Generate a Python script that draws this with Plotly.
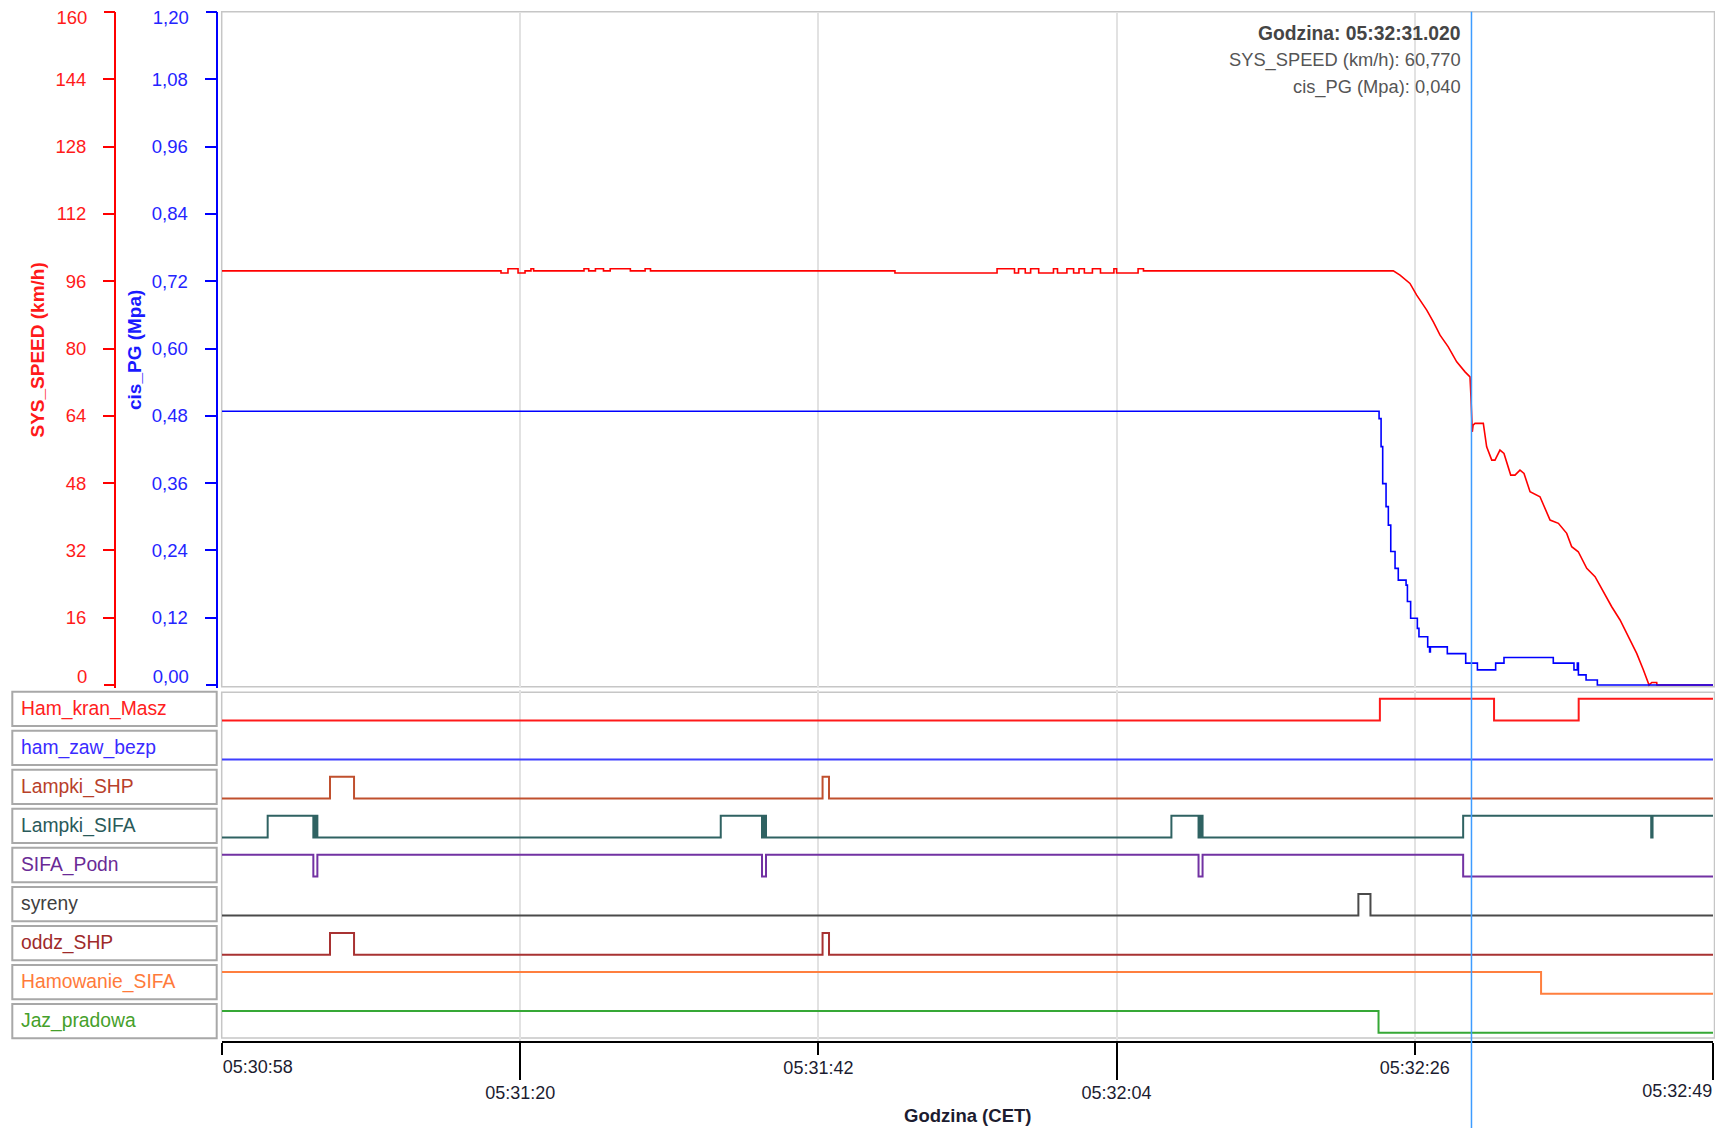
import plotly.graph_objects as go

# ------------------------------------------------------------------ data
# time axis: seconds after 05:30:58.000
x_range = [0.0, 111.0]
tick_times = [0.0, 22.2, 44.4, 66.6, 88.8, 111.0]
tick_labels = ["05:30:58", "05:31:20", "05:31:42", "05:32:04", "05:32:26", "05:32:49"]

speed_ticks = [0, 16, 32, 48, 64, 80, 96, 112, 128, 144, 160]
speed_ticktext = ["0", "16", "32", "48", "64", "80", "96", "112", "128", "144", "160"]
pg_ticks = [0.0, 0.12, 0.24, 0.36, 0.48, 0.60, 0.72, 0.84, 0.96, 1.08, 1.20]
pg_ticktext = ["0,00", "0,12", "0,24", "0,36", "0,48", "0,60", "0,72", "0,84", "0,96", "1,08", "1,20"]

speed_t = [0.0, 20.77, 20.77, 21.29, 21.29, 22.04, 22.04, 22.56, 22.56,
           23.00, 23.00, 23.20, 23.20, 26.95, 26.95, 27.30, 27.30, 27.80, 27.80,
           28.40, 28.40, 28.90, 28.90, 30.40, 30.40, 31.50, 31.50, 31.90, 31.90,
           50.10, 50.10, 57.70, 57.70, 59.00, 59.00, 59.30, 59.30, 59.80, 59.80,
           60.20, 60.20, 60.80, 60.80, 61.90, 61.90, 62.20, 62.20, 62.90, 62.90,
           63.40, 63.40, 63.80, 63.80, 64.20, 64.20, 64.80, 64.80, 65.40, 65.40,
           66.40, 66.40, 66.60, 66.60, 68.20, 68.20, 68.60, 68.60,
           87.20, 87.70, 88.44, 88.94, 89.69, 90.18, 90.68, 91.29, 91.92, 92.54,
           92.91, 92.98, 93.08, 93.14, 93.28, 93.90, 94.15, 94.53, 94.77, 95.14,
           95.44, 95.94, 96.26, 96.63, 96.93, 97.38, 98.12, 98.87, 99.49, 100.11,
           100.48, 100.97, 101.60, 102.22, 102.83, 103.46, 104.08, 104.70, 105.32,
           105.82, 106.18, 106.24, 106.44, 106.81, 106.83, 111.0]
speed_v = [98.45, 98.45, 97.95, 97.95, 98.95, 98.95, 97.95, 97.95, 98.45,
           98.45, 98.95, 98.95, 98.45, 98.45, 98.95, 98.95, 98.45, 98.45, 98.95,
           98.95, 98.45, 98.45, 98.95, 98.95, 98.45, 98.45, 98.95, 98.95, 98.45,
           98.45, 97.95, 97.95, 98.95, 98.95, 97.95, 97.95, 98.95, 98.95, 97.95,
           97.95, 98.95, 98.95, 97.95, 97.95, 98.95, 98.95, 97.95, 97.95, 98.95,
           98.95, 97.95, 97.95, 98.95, 98.95, 97.95, 97.95, 98.95, 98.95, 97.95,
           97.95, 98.95, 98.95, 97.95, 97.95, 98.95, 98.95, 98.45,
           98.45, 97.43, 95.46, 92.68, 89.12, 86.33, 83.17, 80.39, 76.83, 74.45,
           73.26, 68.51, 60.19, 61.80, 62.19, 62.19, 56.63, 53.47, 53.47, 55.85,
           55.06, 49.90, 49.90, 51.09, 50.31, 45.94, 44.75, 39.21, 38.43, 36.05,
           32.87, 31.68, 27.73, 25.74, 22.17, 18.61, 15.45, 11.48, 7.53,
           3.56, 0.40, 0.0, 0.6, 0.6, 0.0, 0.0]

pg_t = [0.0, 86.14, 86.29, 86.41, 86.66, 86.83, 87.01, 87.33, 87.57, 88.15,
        88.25, 88.49, 88.99, 89.11, 89.76, 89.90, 89.96, 91.22, 92.59, 93.46,
        94.82, 95.44, 99.11, 100.65, 100.90, 100.98, 101.55, 102.39, 111.0]
pg_v = [0.488, 0.475, 0.425, 0.359, 0.318, 0.285, 0.238, 0.208, 0.187, 0.178,
        0.149, 0.119, 0.101, 0.086, 0.068, 0.059, 0.068, 0.056, 0.039, 0.027,
        0.039, 0.049, 0.039, 0.027, 0.039, 0.018, 0.009, 0.0, 0.0]

# binary channels (step change times / levels)
ham_kran_masz_t = [0.0, 86.2, 94.7, 101.0, 111.0]
ham_kran_masz_v = [0, 1, 0, 1, 1]
ham_zaw_bezp_t = [0.0, 111.0]
ham_zaw_bezp_v = [0, 0]
lampki_shp_t = [0.0, 8.04, 9.83, 44.71, 45.19, 111.0]
lampki_shp_v = [0, 1, 0, 1, 0, 0]
lampki_sifa_t = [0.0, 3.40, 6.80, 6.95, 7.10, 37.13, 40.20, 40.35, 40.50,
                 70.68, 72.70, 72.85, 73.00, 92.40, 106.40, 106.50, 111.0]
lampki_sifa_v = [0, 1, 0, 1, 0, 1, 0, 1, 0, 1, 0, 1, 0, 1, 0, 1, 1]
sifa_podn_t = [0.0, 6.80, 7.10, 40.20, 40.50, 72.70, 73.00, 92.40, 111.0]
sifa_podn_v = [1, 0, 1, 0, 1, 0, 1, 0, 0]
syreny_t = [0.0, 84.6, 85.5, 111.0]
syreny_v = [0, 1, 0, 0]
oddz_shp_t = [0.0, 8.04, 9.83, 44.71, 45.19, 111.0]
oddz_shp_v = [0, 1, 0, 1, 0, 0]
hamowanie_sifa_t = [0.0, 98.2, 111.0]
hamowanie_sifa_v = [1, 0, 0]
jaz_pradowa_t = [0.0, 86.1, 111.0]
jaz_pradowa_v = [1, 0, 0]

channel_names = ["Ham_kran_Masz", "ham_zaw_bezp", "Lampki_SHP", "Lampki_SIFA",
                 "SIFA_Podn", "syreny", "oddz_SHP", "Hamowanie_SIFA", "Jaz_pradowa"]
channel_t = [ham_kran_masz_t, ham_zaw_bezp_t, lampki_shp_t, lampki_sifa_t,
             sifa_podn_t, syreny_t, oddz_shp_t, hamowanie_sifa_t, jaz_pradowa_t]
channel_v = [ham_kran_masz_v, ham_zaw_bezp_v, lampki_shp_v, lampki_sifa_v,
             sifa_podn_v, syreny_v, oddz_shp_v, hamowanie_sifa_v, jaz_pradowa_v]

cursor_t = 93.02
cursor_title = "Godzina: 05:32:31.020"
cursor_speed_text = "SYS_SPEED (km/h): 60,770"
cursor_pg_text = "cis_PG (Mpa): 0,040"

# ------------------------------------------------------------------ style
channel_line_colors = ["#ff1a1a", "#3f3fff", "#c0502e", "#2f6262", "#7232a3",
                       "#4a4a4a", "#a83232", "#ff7f3f", "#36a836"]
channel_text_colors = ["#ff2020", "#3a2bff", "#b8402a", "#2a5a5a", "#6a2a96",
                       "#404040", "#9e2a2a", "#ff7a3a", "#45a02a"]
FONT = "Liberation Sans, Arial, sans-serif"

FIG_W, FIG_H = 1715, 1128
M_L, M_R, M_T, M_B = 0, 2, 12, 86
PW = FIG_W - M_L - M_R
PH = FIG_H - M_T - M_B


def px_x(px):
    return (px - M_L) / PW


def px_y(py):
    return (FIG_H - M_B - py) / PH


PLOT_LEFT = 222
MAIN_TOP, MAIN_ZERO, MAIN_BOT = 12, 685, 688
ROW0_TOP, ROW_STEP, ROW_BOX_H = 691.7, 39.04, 34.3
HIGH_OFF, LOW_OFF = 7.0, 28.7

spd_per_px = 160.0 / (MAIN_ZERO - MAIN_TOP)
spd_min = -(MAIN_BOT - MAIN_ZERO) * spd_per_px
pg_min = spd_min * 1.2 / 160.0

fig = go.Figure()

fig.add_trace(go.Scatter(x=speed_t, y=speed_v, mode="lines", xaxis="x", yaxis="y",
                         line=dict(color="#ff0000", width=1.6), hoverinfo="skip",
                         showlegend=False))
fig.add_trace(go.Scatter(x=pg_t, y=pg_v, mode="lines", xaxis="x", yaxis="y2",
                         line=dict(color="#0000ff", width=1.6, shape="hv"),
                         hoverinfo="skip", showlegend=False))

layout_axes = {}
shapes = []
annotations = []

row_unit = LOW_OFF - HIGH_OFF
for i, name in enumerate(channel_names):
    top = ROW0_TOP + i * ROW_STEP
    d_top, d_bot = top - 2, top + 37
    r_top = 1 + (HIGH_OFF - (d_top - top)) / row_unit
    r_bot = -((d_bot - top) - LOW_OFF) / row_unit
    ax = "yaxis%d" % (i + 3)
    layout_axes[ax] = dict(domain=[px_y(d_bot), px_y(d_top)], range=[r_bot, r_top],
                           visible=False, fixedrange=True, anchor="x")
    fig.add_trace(go.Scatter(x=channel_t[i], y=channel_v[i], mode="lines",
                             xaxis="x", yaxis="y%d" % (i + 3),
                             line=dict(color=channel_line_colors[i], width=2, shape="hv"),
                             hoverinfo="skip", showlegend=False))
    # label box
    shapes.append(dict(type="rect", xref="paper", yref="paper",
                       x0=px_x(12.3), x1=px_x(216.7),
                       y0=px_y(top + ROW_BOX_H), y1=px_y(top),
                       line=dict(color="#a8a8a8", width=2), fillcolor="white",
                       layer="below"))
    annotations.append(dict(xref="paper", yref="paper", x=px_x(19.0), y=px_y(top + 17),
                            xanchor="left", yanchor="middle", showarrow=False,
                            text=name, font=dict(family=FONT, size=19.3,
                                                 color=channel_text_colors[i])))

# dummy traces so that the overlay axes are drawn
for k in range(2, 6):
    fig.add_trace(go.Scatter(x=x_range, y=[None, None], xaxis="x%d" % k, yaxis="y",
                             mode="lines", hoverinfo="skip", showlegend=False))
for k in range(12, 16):
    fig.add_trace(go.Scatter(x=x_range, y=[None, None], xaxis="x", yaxis="y%d" % k,
                             mode="lines", hoverinfo="skip", showlegend=False))

x_dom = [px_x(PLOT_LEFT), 1.0]
tickfont = dict(family=FONT, size=18, color="#1c1c30")
xbase = dict(range=x_range, domain=x_dom, anchor="free", position=0, showgrid=False,
             zeroline=False, showline=False, tickmode="array", ticks="outside",
             tickcolor="black", tickwidth=1.5, tickfont=tickfont, fixedrange=True,
             overlaying="x", ticklabeloverflow="allow")

layout_axes["xaxis"] = dict(range=x_range, domain=x_dom, anchor="free", position=0,
                            tickmode="array", tickvals=tick_times, showticklabels=False,
                            ticks="", showgrid=True, gridcolor="#e2e2e2", gridwidth=1.5,
                            showline=True, linecolor="black", linewidth=2,
                            zeroline=False, fixedrange=True)
layout_axes["xaxis2"] = dict(xbase, tickvals=[tick_times[0]], ticktext=[tick_labels[0]],
                             ticklen=12, ticklabelposition="outside right",
                             ticklabelstandoff=8)
layout_axes["xaxis3"] = dict(xbase, tickvals=[tick_times[2], tick_times[4]],
                             ticktext=[tick_labels[2], tick_labels[4]], ticklen=12,
                             ticklabelstandoff=-3)
layout_axes["xaxis4"] = dict(xbase, tickvals=[tick_times[1], tick_times[3]],
                             ticktext=[tick_labels[1], tick_labels[3]], ticklen=37,
                             ticklabelstandoff=-3)
layout_axes["xaxis5"] = dict(xbase, tickvals=[tick_times[5]], ticktext=[tick_labels[5]],
                             ticklen=37, ticklabelposition="outside left",
                             ticklabelstandoff=32)

spd_common = dict(range=[spd_min, 160], anchor="free", position=px_x(115), side="left",
                  tickmode="array", ticks="outside", ticklen=11, tickwidth=1.5,
                  tickcolor="#ff0000",
                  tickfont=dict(family=FONT, size=18.5, color="#ff1a1a"),
                  showgrid=False, zeroline=False, ticklabelstandoff=13,
                  ticklabeloverflow="allow", fixedrange=True)
pg_common = dict(range=[pg_min, 1.2], anchor="free", position=px_x(216.5), side="left",
                 tickmode="array", ticks="outside", ticklen=11, tickwidth=1.5,
                 tickcolor="#0000ff",
                 tickfont=dict(family=FONT, size=18.5, color="#2424ff"),
                 showgrid=False, zeroline=False, ticklabelstandoff=13,
                 ticklabeloverflow="allow", fixedrange=True)

layout_axes["yaxis"] = dict(spd_common, domain=[px_y(MAIN_BOT), 1.0],
                            tickvals=speed_ticks[1:-1], ticktext=speed_ticktext[1:-1],
                            showline=True, linecolor="#ff0000", linewidth=2)
layout_axes["yaxis12"] = dict(spd_common, overlaying="y", showline=False,
                              tickvals=[speed_ticks[-1]], ticktext=[speed_ticktext[-1]],
                              ticklabelshift=6)
layout_axes["yaxis13"] = dict(spd_common, overlaying="y", showline=False,
                              tickvals=[speed_ticks[0]], ticktext=[speed_ticktext[0]],
                              ticklabelshift=-8)
layout_axes["yaxis2"] = dict(pg_common, overlaying="y",
                             tickvals=pg_ticks[1:-1], ticktext=pg_ticktext[1:-1],
                             showline=True, linecolor="#0000ff", linewidth=2)
layout_axes["yaxis14"] = dict(pg_common, overlaying="y", showline=False,
                              tickvals=[pg_ticks[-1]], ticktext=[pg_ticktext[-1]],
                              ticklabelshift=6)
layout_axes["yaxis15"] = dict(pg_common, overlaying="y", showline=False,
                              tickvals=[pg_ticks[0]], ticktext=[pg_ticktext[0]],
                              ticklabelshift=-8)

# panel frames
shapes.append(dict(type="rect", xref="paper", yref="paper",
                   x0=px_x(221.7), x1=px_x(1714.5), y0=px_y(686.7), y1=px_y(11.7),
                   line=dict(color="#c6c6c6", width=1.5), layer="below"))
shapes.append(dict(type="rect", xref="paper", yref="paper",
                   x0=px_x(221.7), x1=px_x(1714.5), y0=px_y(1038), y1=px_y(692.3),
                   line=dict(color="#c6c6c6", width=1.5), layer="below"))
# cursor
shapes.append(dict(type="line", xref="x", yref="paper", x0=cursor_t, x1=cursor_t,
                   y0=px_y(FIG_H), y1=px_y(11.7),
                   line=dict(color="#3d9cff", width=1.5), layer="above"))

# axis titles
annotations.append(dict(xref="paper", yref="paper", x=px_x(36.5), y=px_y(350),
                        text="<b>SYS_SPEED (km/h)</b>", textangle=-90, showarrow=False,
                        font=dict(family=FONT, size=19, color="#ff1a1a"),
                        xanchor="center", yanchor="middle"))
annotations.append(dict(xref="paper", yref="paper", x=px_x(134), y=px_y(350),
                        text="<b>cis_PG (Mpa)</b>", textangle=-90, showarrow=False,
                        font=dict(family=FONT, size=19, color="#1a1aff"),
                        xanchor="center", yanchor="middle"))
annotations.append(dict(xref="x domain", yref="paper", x=0.5, y=px_y(1115),
                        text="<b>Godzina (CET)</b>", showarrow=False,
                        font=dict(family=FONT, size=18.5, color="#1c1c30"),
                        xanchor="center", yanchor="middle"))
# cursor read-out
for txt, ypx, col, fs in [("<b>" + cursor_title + "</b>", 33.3, "#454545", 19.3),
                          (cursor_speed_text, 60, "#555555", 18.3),
                          (cursor_pg_text, 87.3, "#555555", 18.3)]:
    annotations.append(dict(xref="x", yref="paper", x=cursor_t, y=px_y(ypx),
                            xanchor="right", yanchor="middle", xshift=-8,
                            text=txt, showarrow=False,
                            font=dict(family=FONT, size=fs, color=col)))

fig.update_layout(
    width=FIG_W, height=FIG_H,
    margin=dict(l=M_L, r=M_R, t=M_T, b=M_B, autoexpand=False),
    paper_bgcolor="white", plot_bgcolor="white",
    showlegend=False, hovermode=False,
    shapes=shapes, annotations=annotations,
    **layout_axes,
)

fig.write_html("out.html", config={"displayModeBar": False},
               post_script="document.body.style.margin='0px';")
